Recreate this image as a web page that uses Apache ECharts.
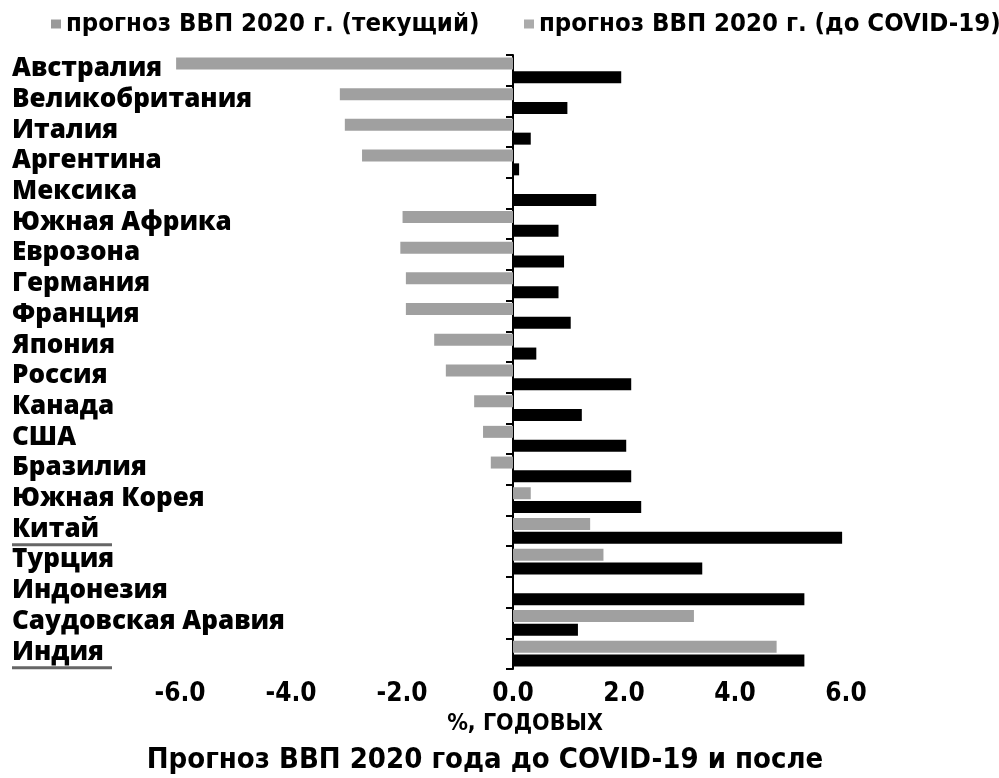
<!DOCTYPE html>
<html><head><meta charset="utf-8">
<script src="https://cdn.jsdelivr.net/npm/echarts@6/dist/echarts.min.js"></script>
<style>html,body{margin:0;padding:0;background:#fff}#c{width:999px;height:778px}</style>
</head><body><div id="c"></div>
<script>
const categories = ['Австралия','Великобритания','Италия','Аргентина','Мексика','Южная Африка','Еврозона','Германия','Франция','Япония','Россия','Канада','США','Бразилия','Южная Корея','Китай','Турция','Индонезия','Саудовская Аравия','Индия'];
const currentForecast = [-6.07,-3.12,-3.03,-2.72,null,-1.99,-2.03,-1.93,-1.93,-1.42,-1.21,-0.70,-0.54,-0.40,0.32,1.39,1.63,null,3.26,4.75];
const preCovidForecast = [1.95,0.98,0.32,0.11,1.50,0.82,0.92,0.82,1.04,0.42,2.13,1.24,2.04,2.13,2.31,5.93,3.41,5.25,1.17,5.25];
const underlined = ['Китай','Индия'];
const seriesNames = ['прогноз ВВП 2020 г. (текущий)','прогноз ВВП 2020 г. (до COVID-19)'];
const axisName = '%, ГОДОВЫХ';
const titleText = 'Прогноз ВВП 2020 года до COVID-19 и после';

const condensed = '"Liberation Sans Narrow", "DejaVu Sans Condensed", sans-serif';
const legendText = { fontFamily: condensed, fontWeight: 'bold', fontSize: 25.5, color: '#000' };
const chart = echarts.init(document.getElementById('c'));
chart.setOption({
  animation: false,
  backgroundColor: '#fff',
  title: {
    text: titleText, left: 480, bottom: -2, textAlign: 'center',
    textStyle: { fontFamily: condensed, fontWeight: 'bold', fontSize: 29, color: '#000' }
  },
  legend: [
    {
      top: 6, left: 46, itemGap: 8, itemWidth: 10, itemHeight: 9, icon: 'rect',
      textStyle: legendText,
      data: [{ name: seriesNames[0], itemStyle: { color: '#9a9a9a' } }]
    },
    {
      top: 6, left: 519, itemGap: 8, itemWidth: 10, itemHeight: 9, icon: 'rect',
      textStyle: legendText,
      data: [{ name: seriesNames[1], itemStyle: { color: '#ababab' } }]
    }
  ],
  grid: { left: 69, right: 42, top: 55, bottom: 109, containLabel: false },
  xAxis: {
    type: 'value', min: -8, max: 8, interval: 2,
    axisLine: { show: false }, axisTick: { show: false }, splitLine: { show: false },
    axisLabel: {
      margin: 12, fontFamily: condensed, fontWeight: 'bold', fontSize: 26, color: '#000',
      formatter: v => Math.abs(v) > 6 ? '' : v.toFixed(1)
    },
    name: axisName, nameLocation: 'middle', nameGap: 44,
    nameTextStyle: { fontFamily: condensed, fontWeight: 'bold', fontSize: 23, color: '#000', padding: [0, 0, 0, 24] }
  },
  yAxis: [
    {
      type: 'category', data: categories, inverse: true,
      axisLine: { show: false, onZero: false }, axisTick: { show: false },
      axisLabel: {
        interval: 0, hideOverlap: false,
        align: 'left', margin: 57, fontFamily: '"Open Sans", "Noto Sans", sans-serif', fontWeight: 800,
        fontSize: 26, color: '#000', verticalAlign: 'bottom', lineHeight: 3
      }
    },
    {
      type: 'category', data: categories, inverse: true, position: 'left',
      axisLine: { show: true, onZero: true, lineStyle: { color: '#000', width: 2 } },
      axisTick: { show: true, length: 7, lineStyle: { color: '#000', width: 2 } },
      axisLabel: { show: false }
    }
  ],
  series: [
    {
      name: seriesNames[0], type: 'bar', yAxisIndex: 0, data: currentForecast,
      barWidth: 12, barGap: '15%', itemStyle: { color: '#a0a0a0' }
    },
    {
      name: seriesNames[1], type: 'bar', yAxisIndex: 0, data: preCovidForecast,
      barWidth: 12, barGap: '15%', itemStyle: { color: '#000' }
    }
  ]
});

const elems = underlined.map(name => {
  const y = chart.convertToPixel({ yAxisIndex: 0 }, name) + 14;
  return { type: 'line', shape: { x1: 12, y1: y, x2: 112, y2: y }, style: { stroke: '#666', lineWidth: 3 }, silent: true };
});
chart.setOption({ graphic: elems });
</script>
</body></html>
